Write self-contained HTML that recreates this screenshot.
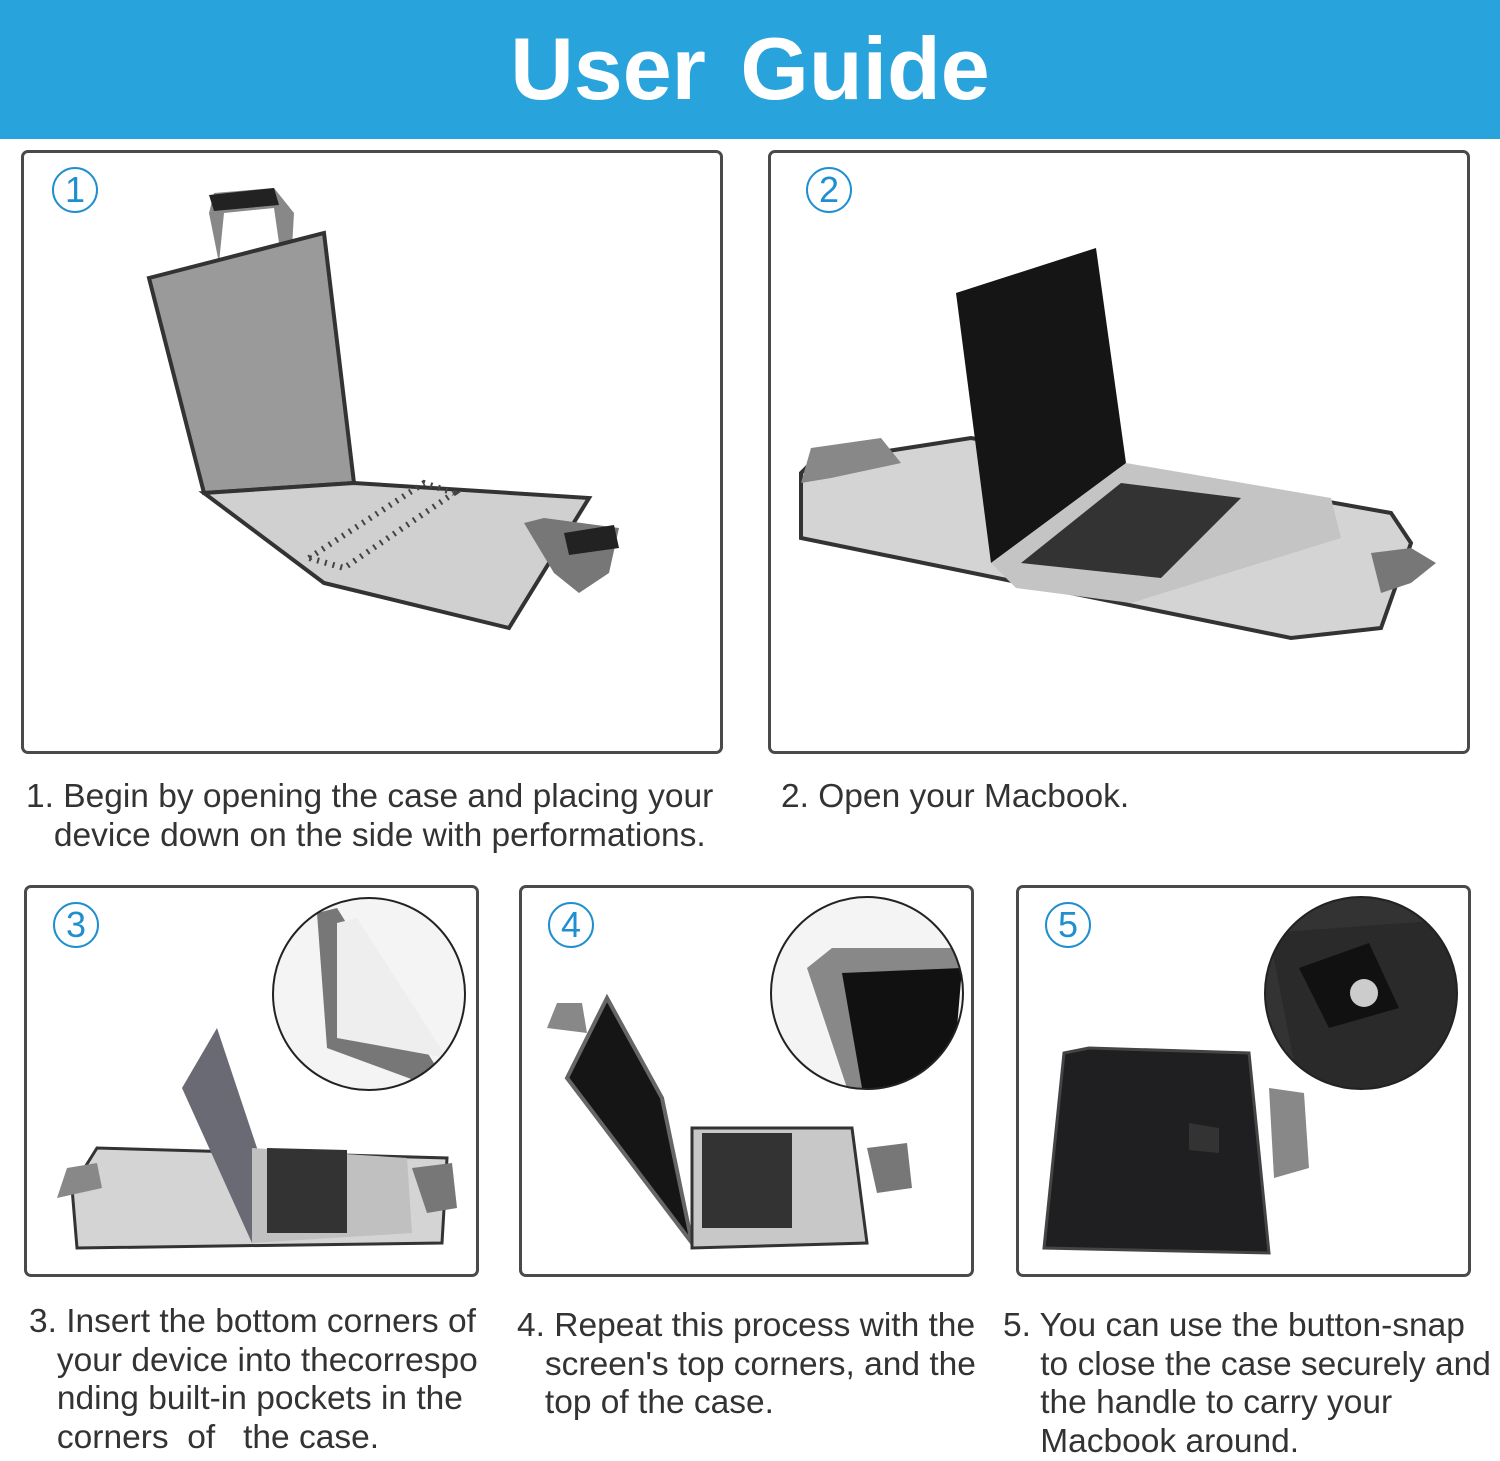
<!DOCTYPE html>
<html><head><meta charset="utf-8"><style>
body{margin:0;width:1500px;height:1457px;background:#fff;position:relative;overflow:hidden;font-family:"Liberation Sans","DejaVu Sans",sans-serif}
.hdr{position:absolute;left:0;top:0;width:1500px;height:139px;background:#29a3dc}
.hdr div{position:absolute;left:0;width:1500px;top:18px;text-align:center;color:#fff;font-weight:bold;font-size:88px;letter-spacing:0px;word-spacing:10px}
.box{position:absolute;border:3px solid #4a4a4a;border-radius:7px;box-sizing:border-box;overflow:hidden}
.num{position:absolute;width:42px;height:42px;border:2px solid #1f8fd0;border-radius:50%;color:#1f8fd0;font-size:36px;text-align:center;line-height:42px}
.t{position:absolute;color:#333;font-size:33.5px;line-height:38.5px;white-space:pre}
svg{position:absolute;left:0;top:0}
</style></head><body>
<div class="hdr"><div>User Guide</div></div>

<div class="box" style="left:21px;top:150px;width:702px;height:604px">
<div class="num" style="left:28px;top:14px">1</div>
<svg width="700" height="600">
<path d="M185 60 L190 40 L250 35 L270 60 L268 95 L255 90 L250 55 L200 60 L195 110 Z" fill="#888"/>
<path d="M185 42 L250 35 L255 52 L190 58 Z" fill="#222"/>
<path d="M125 125 L300 80 L330 330 L180 340 Z" fill="#9a9a9a" stroke="#333" stroke-width="4"/>
<path d="M180 340 L330 330 L565 345 L485 475 L300 430 Z" fill="#d0d0d0" stroke="#333" stroke-width="4"/>
<path d="M285 405 L400 330 L430 340 L320 415 Z" fill="none" stroke="#444" stroke-width="6" stroke-dasharray="2 6"/>
<path d="M500 370 L520 365 L595 375 L585 420 L555 440 L530 420 Z" fill="#777"/>
<path d="M540 380 L590 372 L595 395 L545 402 Z" fill="#222"/>
</svg></div>

<div class="box" style="left:768px;top:150px;width:702px;height:604px">
<div class="num" style="left:35px;top:14px">2</div>
<svg width="700" height="600">
<path d="M30 320 L40 310 L200 285 L620 360 L640 390 L610 475 L520 485 L30 385 Z" fill="#d4d4d4" stroke="#333" stroke-width="4"/>
<path d="M185 140 L325 95 L355 310 L220 410 Z" fill="#151515"/>
<path d="M220 410 L355 310 L560 345 L570 385 L360 450 L245 435 Z" fill="#c4c4c4"/>
<path d="M250 410 L350 330 L470 345 L390 425 Z" fill="#333"/>
<path d="M30 330 L40 295 L110 285 L130 310 L60 325 Z" fill="#888"/>
<path d="M600 400 L640 395 L665 410 L640 430 L610 440 Z" fill="#777"/>
</svg></div>

<div class="t" style="left:26px;top:778px">1. Begin by opening the case and placing your
   device down on the side with performations.</div>
<div class="t" style="left:781px;top:778px">2. Open your Macbook.</div>

<div class="box" style="left:24px;top:885px;width:455px;height:392px">
<div class="num" style="left:26px;top:14px">3</div>
<svg width="455" height="392">
<defs><clipPath id="c3"><circle cx="342" cy="106" r="96"/></clipPath></defs>
<circle cx="342" cy="106" r="96" fill="#f4f4f4"/>
<g clip-path="url(#c3)">
<path d="M290 25 L310 20 L410 180 L395 195 L300 160 Z" fill="#777"/>
<path d="M310 35 L330 30 L420 170 L310 150 Z" fill="#eee"/>
</g>
<circle cx="342" cy="106" r="96" fill="none" stroke="#222" stroke-width="2"/>
<path d="M45 300 L70 260 L420 270 L415 355 L50 360 Z" fill="#d4d4d4" stroke="#333" stroke-width="3"/>
<path d="M155 200 L190 140 L230 260 L225 355 Z" fill="#6a6a75"/>
<path d="M225 260 L380 270 L385 345 L225 355 Z" fill="#c0c0c0"/>
<path d="M240 260 L320 262 L320 345 L240 345 Z" fill="#333"/>
<path d="M30 310 L40 280 L70 275 L75 300 Z" fill="#888"/>
<path d="M385 280 L425 275 L430 320 L400 325 Z" fill="#777"/>
</svg></div>

<div class="box" style="left:519px;top:885px;width:455px;height:392px">
<div class="num" style="left:26px;top:14px">4</div>
<svg width="455" height="392">
<defs><clipPath id="c4"><circle cx="345" cy="105" r="96"/></clipPath></defs>
<circle cx="345" cy="105" r="96" fill="#f4f4f4"/>
<g clip-path="url(#c4)">
<path d="M285 80 L310 60 L440 60 L430 200 L325 200 Z" fill="#888"/>
<path d="M320 85 L440 80 L430 200 L340 200 Z" fill="#111"/>
</g>
<circle cx="345" cy="105" r="96" fill="none" stroke="#222" stroke-width="2"/>
<path d="M85 110 L140 210 L170 355 L45 190 Z" fill="#151515" stroke="#666" stroke-width="4"/>
<path d="M170 240 L330 240 L345 355 L170 360 Z" fill="#c8c8c8" stroke="#333" stroke-width="3"/>
<path d="M180 245 L270 245 L270 340 L180 340 Z" fill="#333"/>
<path d="M25 140 L35 115 L60 115 L65 145 Z" fill="#888"/>
<path d="M345 260 L385 255 L390 300 L355 305 Z" fill="#777"/>
</svg></div>

<div class="box" style="left:1016px;top:885px;width:455px;height:392px">
<div class="num" style="left:26px;top:14px">5</div>
<svg width="455" height="392">
<defs><clipPath id="c5"><circle cx="342" cy="105" r="96"/></clipPath></defs>
<circle cx="342" cy="105" r="96" fill="#333"/>
<g clip-path="url(#c5)">
<path d="M250 45 L455 30 L455 200 L280 200 Z" fill="#2a2a2a"/>
<path d="M280 80 L350 55 L380 120 L310 140 Z" fill="#111"/>
<circle cx="345" cy="105" r="14" fill="#ccc"/>
</g>
<circle cx="342" cy="105" r="96" fill="none" stroke="#222" stroke-width="2"/>
<path d="M45 165 L70 160 L230 165 L250 365 L25 360 Z" fill="#1f1f22" stroke="#444" stroke-width="3"/>
<path d="M170 235 L200 240 L200 265 L170 262 Z" fill="#333"/>
<path d="M250 200 L285 205 L290 280 L255 290 Z" fill="#888"/>
</svg></div>

<div class="t" style="left:29px;top:1303px">3. Insert the bottom corners of
   your device into thecorrespo
   nding built-in pockets in the
   corners  of   the case.</div>
<div class="t" style="left:517px;top:1307px">4. Repeat this process with the
   screen's top corners, and the
   top of the case.</div>
<div class="t" style="left:1003px;top:1307px">5. You can use the button-snap
    to close the case securely and
    the handle to carry your
    Macbook around.</div>
</body></html>
